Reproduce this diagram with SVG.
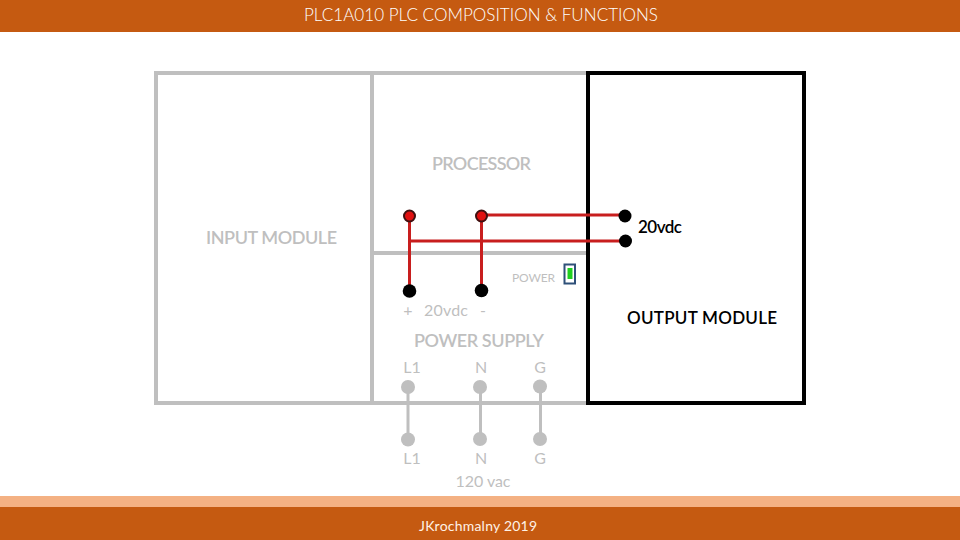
<svg xmlns="http://www.w3.org/2000/svg" width="960" height="540" viewBox="0 0 960 540">
<style>
text{font-family:Lato,"Open Sans",sans-serif;fill:#bfbfbf;text-anchor:middle}
.h{font-size:18px;font-weight:600}
.s{font-size:16px}
.k{fill:#000;font-size:17px;font-weight:600}
.box{fill:none;stroke:#bfbfbf;stroke-width:4}
.g{stroke:#bfbfbf;stroke-width:3;fill:none}
.r{stroke:#c81e1e;stroke-width:3;fill:none}
.gd{fill:#bfbfbf}
.bd{fill:#000}
.rd{fill:#e01010;stroke:#401010;stroke-width:2}
</style>
<rect width="960" height="32" fill="#c55a11"/>
<text x="481" y="21" textLength="354" lengthAdjust="spacingAndGlyphs" style="fill:#fff;font-size:18px;font-weight:300">PLC1A010 PLC COMPOSITION &amp; FUNCTIONS</text>
<rect y="496" width="960" height="11" fill="#f4b183"/>
<rect y="507" width="960" height="33" fill="#c55a11"/>
<text x="478" y="531" textLength="118" style="fill:#fff2e6;font-size:14px;font-weight:400">JKrochmalny 2019</text>
<g id="input-module">
<rect class="box" x="156" y="73" width="216" height="330"/>
<text class="h" x="271.500" y="244" textLength="131">INPUT MODULE</text>
</g>
<g id="processor">
<path class="box" d="M372 73H587M372 253H587"/>
<text class="h" x="481.500" y="170" textLength="99">PROCESSOR</text>
</g>
<g id="power-supply">
<path class="box" d="M372 403H587"/>
<text class="h" x="479" y="347" textLength="130">POWER SUPPLY</text>
<text class="s" x="408" y="316">+</text>
<text class="s" x="446" y="316" textLength="44">20vdc</text>
<text class="s" x="483" y="316">-</text>
<text class="s" x="412" y="373">L1</text>
<text class="s" x="481" y="373">N</text>
<text class="s" x="540" y="373">G</text>
</g>
<g id="output-module">
<rect x="588" y="73" width="216" height="330" fill="none" stroke="#000" stroke-width="4"/>
<text class="k" x="702" y="324" textLength="150">OUTPUT MODULE</text>
<text class="k" x="660" y="233" textLength="44">20vdc</text>
</g>
<g id="power-indicator">
<text x="533.500" y="282" textLength="43" style="font-size:12px">POWER</text>
<rect x="564.500" y="264.500" width="10.500" height="19" fill="#fff" stroke="#2f5079" stroke-width="2"/>
<rect x="567.500" y="268" width="5" height="11" fill="#20d020"/>
</g>
<g id="connectors">
<path class="r" d="M409.500 216V291M481.500 216V291M481.500 215H625M409.500 241H625"/>
<path class="g" d="M408 387V439M480.500 387V439M540.500 387V439"/>
</g>
<g id="terminals">
<circle class="rd" cx="409.500" cy="216" r="5.500"/>
<circle class="rd" cx="481.500" cy="216" r="5.500"/>
<circle class="bd" cx="625" cy="216" r="6.500"/>
<circle class="bd" cx="625.500" cy="241" r="6.500"/>
<circle class="bd" cx="409.500" cy="291" r="6.800"/>
<circle class="bd" cx="481.500" cy="290.500" r="6.800"/>
<circle class="gd" cx="408" cy="387" r="7"/>
<circle class="gd" cx="480" cy="387" r="7"/>
<circle class="gd" cx="540" cy="386.500" r="7"/>
<circle class="gd" cx="408" cy="439.500" r="7"/>
<circle class="gd" cx="480" cy="439" r="7"/>
<circle class="gd" cx="540" cy="439" r="7"/>
</g>
<g id="ac-labels">
<text class="s" x="412" y="464">L1</text>
<text class="s" x="481" y="464">N</text>
<text class="s" x="540" y="464">G</text>
<text class="s" x="483" y="487" textLength="55">120 vac</text>
</g>
</svg>
